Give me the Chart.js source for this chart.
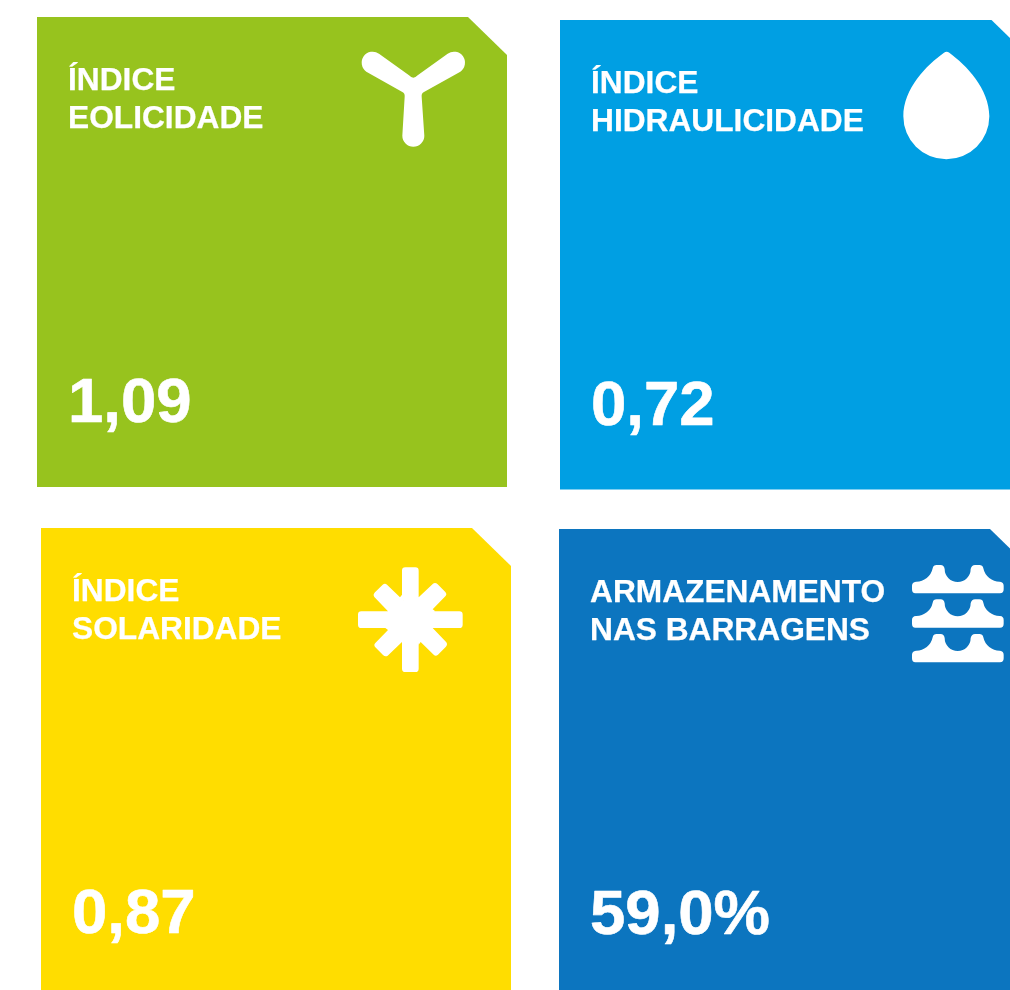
<!DOCTYPE html>
<html lang="pt">
<head>
  <meta charset="UTF-8">
  <title>Índices</title>
  <script src="https://cdn.jsdelivr.net/npm/chart.js"></script>
  <style>
    body, html {
      margin: 0;
      padding: 0;
      width: 1010px;
      height: 990px;
      overflow: hidden;
      background: #fff;
    }
    canvas {
      position: absolute;
      clip-path: polygon(0 0, 431px 0, 470px 38px, 470px 100%, 0 100%);
    }
    #eolicidade { left: 37px; top: 17px; }
    #hidraulicidade { left: 560px; top: 19.5px; }
    #solaridade { left: 41px; top: 528px; }
    #armazenamento { left: 559px; top: 529px; }
  </style>
</head>
<body>
  <canvas id="eolicidade" width="470" height="470"></canvas>
  <canvas id="hidraulicidade" width="470" height="470"></canvas>
  <canvas id="solaridade" width="470" height="470"></canvas>
  <canvas id="armazenamento" width="470" height="470"></canvas>
  <script>
    const ids = ["eolicidade", "hidraulicidade", "solaridade", "armazenamento"];
    const linha1 = ["ÍNDICE", "ÍNDICE", "ÍNDICE", "ARMAZENAMENTO"];
    const linha2 = ["EOLICIDADE", "HIDRAULICIDADE", "SOLARIDADE", "NAS BARRAGENS"];
    const valores = [1.09, 0.72, 0.87, 59.0];
    const casas = [2, 2, 2, 1];
    const unidades = ["", "", "", "%"];
    const cores = ["#97c31e", "#009fe3", "#ffdd00", "#0c75bf"];

    // icons traced at 3x, so each one is scaled down by a third when drawn
    function desenhaVento(c) {
      c.translate(303, -17);
      c.scale(1 / 3, 1 / 3);
      c.fill(new Path2D("M207 226 Q220 240 233 226 L323 161 A33 33 0 0 1 361 215 L252 276 Q244 280 245 290 L253 407 A33 33 0 0 1 187 407 L194 290 Q195 280 187 276 L79 215 A33 33 0 0 1 117 161 Z"));
    }
    function desenhaGota(c) {
      c.translate(330, -10);
      c.scale(1 / 3, 1 / 3);
      c.fill(new Path2D("M162 128 C110 165 40 235 40 319 A129 129 0 0 0 298 319 C298 235 228 165 178 128 Q170 122 162 128 Z"));
    }
    function desenhaSol(c) {
      c.translate(304, -8);
      c.scale(1 / 3, 1 / 3);
      c.translate(196, 299);
      c.beginPath();
      c.arc(0, 0, 60, 0, Math.PI * 2);
      c.fill();
      const quarto = new Path2D("M0 0 L-25 -67 L-25 -147 Q-25 -157 -15 -157 L15 -157 Q25 -157 25 -147 L25 -67 L68 -108 Q75 -113 82 -106 L105 -83 Q111 -76 105 -70 L67 -31 L75 -25 Z");
      for (let i = 0; i < 4; i++) {
        c.fill(quarto);
        c.rotate(Math.PI / 2);
      }
    }
    function desenhaAgua(c) {
      c.translate(341, -9);
      c.scale(1 / 3, 1 / 3);
      const onda = new Path2D("M46 220 Q36 220 36 208 L36 197 Q36 186 48 185 A50 50 0 0 0 98 145 Q100 135 110 135 L122 135 Q132 135 134 147 A39 39 0 0 0 212 147 Q215 135 225 135 L238 135 Q248 135 250 145 A50 50 0 0 0 300 185 Q311 186 311 197 L311 208 Q311 220 300 220 Z");
      [0, 103, 207].forEach(d => {
        c.save();
        c.translate(0, d);
        c.fill(onda);
        c.restore();
      });
    }
    const icones = [desenhaVento, desenhaGota, desenhaSol, desenhaAgua];

    const textoCartao = {
      id: "textoCartao",
      afterDraw(chart, args, opts) {
        const c = chart.ctx;
        const i = opts.indice;
        c.save();
        c.fillStyle = "#fff";
        c.strokeStyle = "#fff";
        c.lineJoin = "round";
        c.textAlign = "left";
        c.textBaseline = "alphabetic";
        c.font = "bold 31.7px 'Liberation Sans'";
        c.lineWidth = 0.25;
        c.fillText(linha1[i], 31, 73);
        c.strokeText(linha1[i], 31, 73);
        c.fillText(linha2[i], 31, 111);
        c.strokeText(linha2[i], 31, 111);
        c.font = "bold 63.5px 'Liberation Sans'";
        c.lineWidth = 0.6;
        const texto = valores[i].toFixed(casas[i]).replace(".", ",") + unidades[i];
        c.fillText(texto, 31, 404.7);
        c.strokeText(texto, 31, 404.7);
        icones[i](c);
        c.restore();
      }
    };

    ids.forEach((id, i) => {
      new Chart(document.getElementById(id), {
        type: "bar",
        data: {
          labels: [linha2[i]],
          datasets: [{
            data: [valores[i]],
            backgroundColor: cores[i],
            barPercentage: 1,
            categoryPercentage: 1
          }]
        },
        options: {
          responsive: false,
          animation: false,
          layout: { padding: 0 },
          scales: {
            x: { display: false },
            y: { display: false, min: 0, max: valores[i] }
          },
          plugins: {
            legend: { display: false },
            tooltip: { enabled: false },
            textoCartao: { indice: i }
          }
        },
        plugins: [textoCartao]
      });
    });
  </script>
</body>
</html>
